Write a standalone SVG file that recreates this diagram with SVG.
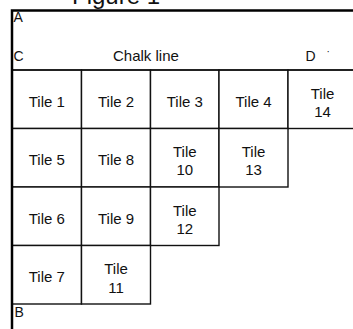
<svg xmlns="http://www.w3.org/2000/svg" width="353" height="329" viewBox="0 0 353 329">
<style>
text{font-family:"Liberation Sans",Arial,sans-serif;fill:#111}
.t{font-size:15px;text-anchor:middle}
.lbl{font-size:14px}
.cell{fill:#fff;stroke:#111;stroke-width:1.4}
.border{stroke:#000;stroke-width:2.5;fill:none}
</style>
<rect width="353" height="329" fill="#fff"/>
<text x="72" y="4" style="font-size:24px">Figure 1</text>
<g id="tiles">
<g id="tile1"><rect class="cell" x="12" y="70" width="69.5" height="58.5"/><text class="t" x="46.75" y="106.5">Tile 1</text></g>
<g id="tile2"><rect class="cell" x="81.5" y="70" width="69" height="58.5"/><text class="t" x="116" y="106.5">Tile 2</text></g>
<g id="tile3"><rect class="cell" x="150.5" y="70" width="68.5" height="58.5"/><text class="t" x="184.75" y="106.5">Tile 3</text></g>
<g id="tile4"><rect class="cell" x="219" y="70" width="69" height="58.5"/><text class="t" x="253.5" y="106.5">Tile 4</text></g>
<g id="tile14"><rect class="cell" x="288" y="70" width="69" height="58.5"/><text class="t" x="322.5" y="98.5">Tile</text><text class="t" x="322.5" y="116.8">14</text></g>
<g id="tile5"><rect class="cell" x="12" y="128.5" width="69.5" height="58.5"/><text class="t" x="46.75" y="165">Tile 5</text></g>
<g id="tile8"><rect class="cell" x="81.5" y="128.5" width="69" height="58.5"/><text class="t" x="116" y="165">Tile 8</text></g>
<g id="tile10"><rect class="cell" x="150.5" y="128.5" width="68.5" height="58.5"/><text class="t" x="184.75" y="157.2">Tile</text><text class="t" x="184.75" y="175.3">10</text></g>
<g id="tile13"><rect class="cell" x="219" y="128.5" width="69" height="58.5"/><text class="t" x="253.5" y="157.2">Tile</text><text class="t" x="253.5" y="175.3">13</text></g>
<g id="tile6"><rect class="cell" x="12" y="187" width="69.5" height="58.5"/><text class="t" x="46.75" y="223.5">Tile 6</text></g>
<g id="tile9"><rect class="cell" x="81.5" y="187" width="69" height="58.5"/><text class="t" x="116" y="223.5">Tile 9</text></g>
<g id="tile12"><rect class="cell" x="150.5" y="187" width="68.5" height="58.5"/><text class="t" x="184.75" y="215.7">Tile</text><text class="t" x="184.75" y="233.8">12</text></g>
<g id="tile7"><rect class="cell" x="12" y="245.5" width="69.5" height="58.5"/><text class="t" x="46.75" y="282">Tile 7</text></g>
<g id="tile11"><rect class="cell" x="81.5" y="245.5" width="69" height="58.5"/><text class="t" x="116" y="274.2">Tile</text><text class="t" x="116" y="292.5">11</text></g>
</g>
<g id="connectors">
<line x1="12" y1="70" x2="353" y2="70" stroke="#111" stroke-width="1.6"/>
<path class="border" d="M12 329 V10.5 H353"/>
</g>
<g id="labels">
<text class="lbl" x="13.5" y="22">A</text>
<text class="lbl" x="13.5" y="60.5">C</text>
<text x="113" y="60.5" style="font-size:15px">Chalk line</text>
<text class="lbl" x="305.5" y="60.5">D</text>
<text x="326.5" y="55" style="font-size:10px">·</text>
<text class="lbl" x="14.5" y="316.5">B</text>
</g>
</svg>
